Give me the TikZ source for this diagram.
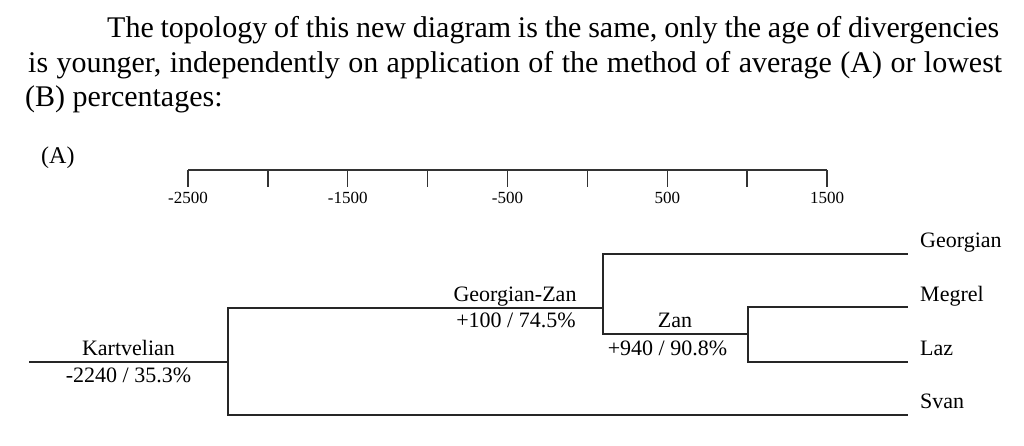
\documentclass[tikz,border=0pt]{standalone}
\usepackage{fontspec}
\setmainfont{Liberation Serif}
\newcommand{\justline}[2]{\makebox[#1][s]{#2}}
\tikzset{
  branch/.style={line width=1.3pt, draw=black!85, line cap=butt},
  axisline/.style={line width=1.3pt, draw=black!80},
  paratext/.style={anchor=base west, inner sep=0pt, font=\fontsize{30}{36}\selectfont},
  lbl/.style={inner sep=0pt, anchor=base, font=\fontsize{22}{26}\selectfont},
  leaf/.style={inner sep=0pt, anchor=base west, font=\fontsize{22}{26}\selectfont},
  ticklbl/.style={inner sep=0pt, anchor=base, font=\fontsize{17}{20}\selectfont},
}
\begin{document}
\begin{tikzpicture}[x=1pt,y=-1pt]
\useasboundingbox (0,0) rectangle (1024,445);
% paragraph
\node[paratext] (p1) at (107,37) {\justline{892pt}{The topology of this new diagram is the same, only the age of divergencies}};
\node[paratext] (p2) at (28,72) {\justline{974pt}{is younger, independently on application of the method of average (A) or lowest}};
\node[paratext] (p3) at (25,106) {(B) percentages:};
\node[inner sep=0pt, anchor=base west, font=\fontsize{24}{28}\selectfont] (A) at (41,163) {(A)};
% axis
\coordinate (ax0) at (188,170);
\coordinate (ax1) at (827,170);
\draw[axisline] (ax0) -- (ax1);
\foreach \i in {0,...,8} {
  \coordinate (t\i) at ({188+\i*79.875},170);
  \draw[axisline] (t\i) -- ++(0,17);
}
\node[ticklbl] (l0) at ([yshift=-33pt]t0) {-2500};
\node[ticklbl] (l2) at ([yshift=-33pt]t2) {-1500};
\node[ticklbl] (l4) at ([yshift=-33pt]t4) {-500};
\node[ticklbl] (l6) at ([yshift=-33pt]t6) {500};
\node[ticklbl] (l8) at ([yshift=-33pt]t8) {1500};
% tree
\coordinate (kl) at (29,362);
\coordinate (k) at (228,362);
\coordinate (gz) at (603,308);
\coordinate (z) at (748,334);
\coordinate (lg) at (908,254);
\coordinate (lm) at (908,307);
\coordinate (ll) at (908,362);
\coordinate (ls) at (908,415);
\draw[branch] (kl) -- (k);
\draw[branch] (k) |- (gz);
\draw[branch] (k) |- (ls);
\draw[branch] (gz) |- (lg);
\draw[branch] (gz) |- (z);
\draw[branch] (z) |- (lm);
\draw[branch] (z) |- (ll);
% labels
\node[lbl] (kname) at (128.5,355) {Kartvelian};
\node[lbl] (kval) at (128.5,382) {-2240 / 35.3\%};
\node[lbl] (gzname) at (515,301) {Georgian-Zan};
\node[lbl] (gzval) at (516,327) {+100 / 74.5\%};
\node[lbl] (zname) at (675,327) {Zan};
\node[lbl] (zval) at (667.5,355) {+940 / 90.8\%};
\node[leaf] (georgian) at (920,247) {Georgian};
\node[leaf] (megrel) at (920,301) {Megrel};
\node[leaf] (laz) at (920,355) {Laz};
\node[leaf] (svan) at (920,408) {Svan};
\end{tikzpicture}
\end{document}
